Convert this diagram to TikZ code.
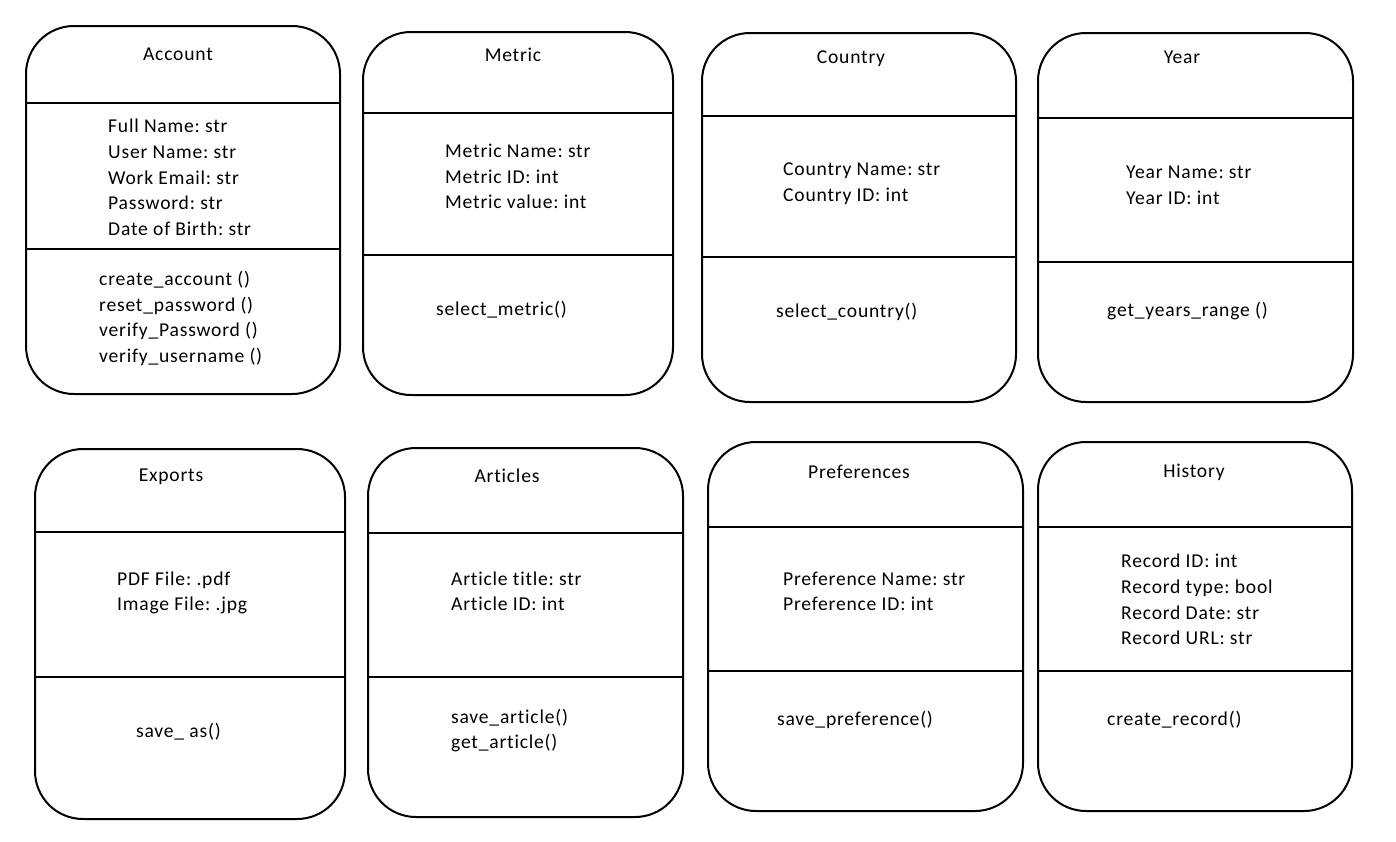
\documentclass[tikz,border=0pt]{standalone}
\usepackage{fontspec}
\setmainfont{Carlito}[Ligatures=NoCommon, LetterSpace=4.0]
\frenchspacing
\begin{document}
\begin{tikzpicture}[x=1pt,y=-1pt,
  cls/.style={draw=black, line width=2pt, rounded corners=48pt, fill=none, inner sep=0pt, anchor=north west},
  divider/.style={draw=black, line width=2pt},
  txt/.style={inner sep=0pt, anchor=base west, font=\fontsize{19.6}{24}\selectfont},
  ttl/.style={inner sep=0pt, anchor=base, font=\fontsize{19.6}{24}\selectfont}]
\useasboundingbox (0,0) rectangle (1396,841);
\fill[white] (0,0) rectangle (1396,841);

% ---------- Account ----------
\node[cls, minimum width=314pt, minimum height=368pt] (acc) at (25,25) {};
\draw[divider] (acc.west |- 0,103) -- (acc.east |- 0,103);
\draw[divider] (acc.west |- 0,249) -- (acc.east |- 0,249);
\node[ttl] (acct) at (178,60) {Account};
\node[txt] (acca1) at (108,132) {Full Name: str};
\node[txt] (acca2) at (108,158) {User Name: str};
\node[txt] (acca3) at (108,184) {Work Email: str};
\node[txt] (acca4) at (108,209) {Password: str};
\node[txt] (acca5) at (108,235) {Date of Birth: str};
\node[txt] (accm1) at (99,285) {create\_account ()};
\node[txt] (accm2) at (99,311) {reset\_password ()};
\node[txt] (accm3) at (99,336) {verify\_Password ()};
\node[txt] (accm4) at (99,362) {verify\_username ()};

% ---------- Metric ----------
\node[cls, minimum width=310pt, minimum height=363pt] (met) at (362,31) {};
\draw[divider] (met.west |- 0,113) -- (met.east |- 0,113);
\draw[divider] (met.west |- 0,255) -- (met.east |- 0,255);
\node[ttl] (mett) at (513,61) {Metric};
\node[txt] (meta1) at (445,157) {Metric Name: str};
\node[txt] (meta2) at (445,183) {Metric ID: int};
\node[txt] (meta3) at (445,208) {Metric value: int};
\node[txt] (metm1) at (436,315) {select\_metric()};

% ---------- Country ----------
\node[cls, minimum width=314pt, minimum height=369pt] (cty) at (701,32) {};
\draw[divider] (cty.west |- 0,116) -- (cty.east |- 0,116);
\draw[divider] (cty.west |- 0,257) -- (cty.east |- 0,257);
\node[ttl] (ctyt) at (851,63) {Country};
\node[txt] (ctya1) at (783,175) {Country Name: str};
\node[txt] (ctya2) at (783,201) {Country ID: int};
\node[txt] (ctym1) at (776,317) {select\_country()};

% ---------- Year ----------
\node[cls, minimum width=315pt, minimum height=369pt] (yr) at (1037,32) {};
\draw[divider] (yr.west |- 0,118) -- (yr.east |- 0,118);
\draw[divider] (yr.west |- 0,262) -- (yr.east |- 0,262);
\node[ttl] (yrt) at (1182,63) {Year};
\node[txt] (yra1) at (1126,178) {Year Name: str};
\node[txt] (yra2) at (1126,204) {Year ID: int};
\node[txt] (yrm1) at (1107,316) {get\_years\_range ()};

% ---------- Exports ----------
\node[cls, minimum width=310pt, minimum height=370pt] (exp) at (34,448) {};
\draw[divider] (exp.west |- 0,532) -- (exp.east |- 0,532);
\draw[divider] (exp.west |- 0,677) -- (exp.east |- 0,677);
\node[ttl] (expt) at (171,481) {Exports};
\node[txt] (expa1) at (117,585) {PDF File: .pdf};
\node[txt] (expa2) at (117,610) {Image File: .jpg};
\node[txt] (expm1) at (136,737) {save\_ as()};

% ---------- Articles ----------
\node[cls, minimum width=315pt, minimum height=369pt] (art) at (367,447) {};
\draw[divider] (art.west |- 0,533) -- (art.east |- 0,533);
\draw[divider] (art.west |- 0,677) -- (art.east |- 0,677);
\node[ttl] (artt) at (507,482) {Articles};
\node[txt] (arta1) at (451,585) {Article title: str};
\node[txt] (arta2) at (451,610) {Article ID: int};
\node[txt] (artm1) at (451,723) {save\_article()};
\node[txt] (artm2) at (451,748) {get\_article()};

% ---------- Preferences ----------
\node[cls, minimum width=315pt, minimum height=369pt] (prf) at (707,441) {};
\draw[divider] (prf.west |- 0,527) -- (prf.east |- 0,527);
\draw[divider] (prf.west |- 0,671) -- (prf.east |- 0,671);
\node[ttl] (prft) at (859,478) {Preferences};
\node[txt] (prfa1) at (783,585) {Preference Name: str};
\node[txt] (prfa2) at (783,610) {Preference ID: int};
\node[txt] (prfm1) at (777,725) {save\_preference()};

% ---------- History ----------
\node[cls, minimum width=314pt, minimum height=369pt] (his) at (1037,441) {};
\draw[divider] (his.west |- 0,527) -- (his.east |- 0,527);
\draw[divider] (his.west |- 0,671) -- (his.east |- 0,671);
\node[ttl] (hist) at (1194,477) {History};
\node[txt] (hisa1) at (1121,567) {Record ID: int};
\node[txt] (hisa2) at (1121,593) {Record type: bool};
\node[txt] (hisa3) at (1121,619) {Record Date: str};
\node[txt] (hisa4) at (1121,644) {Record URL: str};
\node[txt] (hism1) at (1107,725) {create\_record()};
\end{tikzpicture}
\end{document}
